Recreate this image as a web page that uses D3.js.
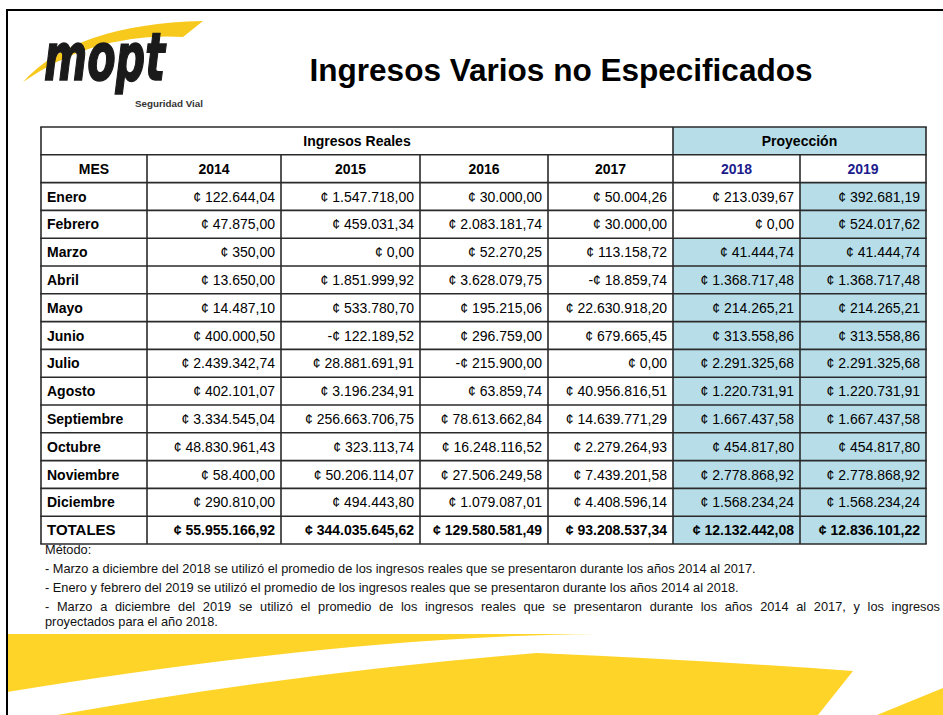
<!DOCTYPE html>
<html>
<head>
<meta charset="utf-8">
<script src="https://cdn.jsdelivr.net/npm/d3@7"></script>
<style>
  body { margin: 0; background: #fff; }
  svg text { font-family: "Liberation Sans", Arial, sans-serif; }
  svg text.narrow { font-family: "Liberation Sans Narrow", "Liberation Sans", sans-serif; }
  svg text.brand { font-family: "DejaVu Sans Condensed", "DejaVu Sans", sans-serif; }
</style>
</head>
<body>
<svg id="sheet" width="943" height="715"></svg>
<script>
"use strict";

var title = 'Ingresos Varios no Especificados';
var months = ['Enero', 'Febrero', 'Marzo', 'Abril', 'Mayo', 'Junio', 'Julio',
  'Agosto', 'Septiembre', 'Octubre', 'Noviembre', 'Diciembre'];
var years = ['2014', '2015', '2016', '2017', '2018', '2019'];

var v2014 = [122644.04, 47875.00, 350.00, 13650.00, 14487.10, 400000.50, 2439342.74,
  402101.07, 3334545.04, 48830961.43, 58400.00, 290810.00];
var v2015 = [1547718.00, 459031.34, 0.00, 1851999.92, 533780.70, -122189.52, 28881691.91,
  3196234.91, 256663706.75, 323113.74, 50206114.07, 494443.80];
var v2016 = [30000.00, 2083181.74, 52270.25, 3628079.75, 195215.06, 296759.00, -215900.00,
  63859.74, 78613662.84, 16248116.52, 27506249.58, 1079087.01];
var v2017 = [50004.26, 30000.00, 113158.72, -18859.74, 22630918.20, 679665.45, 0.00,
  40956816.51, 14639771.29, 2279264.93, 7439201.58, 4408596.14];
var v2018 = [213039.67, 0.00, 41444.74, 1368717.48, 214265.21, 313558.86, 2291325.68,
  1220731.91, 1667437.58, 454817.80, 2778868.92, 1568234.24];
var v2019 = [392681.19, 524017.62, 41444.74, 1368717.48, 214265.21, 313558.86, 2291325.68,
  1220731.91, 1667437.58, 454817.80, 2778868.92, 1568234.24];
var totals = [55955166.92, 344035645.62, 129580581.49, 93208537.34, 12132442.08, 12836101.22];

// month index from which each year column is a projection (null = real income)
var projectedFrom = [null, null, null, null, 2, 0];

var groups = ['Ingresos Reales', 'Proyección'];
var notes = [
  'Método:',
  '- Marzo a diciembre del 2018 se utilizó el promedio de los ingresos reales que se presentaron durante los años 2014 al 2017.',
  '- Enero y febrero del 2019 se utilizó el promedio de los ingresos reales que se presentaron durante los años 2014 al 2018.',
  '- Marzo a diciembre del 2019 se utilizó el promedio de los ingresos reales que se presentaron durante los años 2014 al 2017, y los ingresos',
  'proyectados para el año 2018.'
];

var series = [v2014, v2015, v2016, v2017, v2018, v2019];

var es = d3.formatLocale({
  decimal: ',', thousands: '.', grouping: [3], currency: ['¢ ', ''], minus: '-'
});
var money = es.format('$,.2f');

var YELLOW = '#ffd428';
var BLUE = '#b7dee8';
var LINE = '#2a2a2a';

function draw_frame(svg) {
  // yellow swooshes at the foot of the page
  var feet = svg.append('g').attr('fill', YELLOW);
  feet.append('path').attr('d', 'M7,634 L598,634 Q350,636 7,692 Z');
  feet.append('path').attr('d', 'M57,715 Q300,672 537,653 Q700,660 853,671 L818,715 Z');
  feet.append('path').attr('d', 'M877,715 L943,688 L943,715 Z');

  svg.append('path')
    .attr('d', 'M7,715 L7,10 L943,10')
    .attr('fill', 'none')
    .attr('stroke', '#000')
    .attr('stroke-width', 2);
}

function draw_logo(svg) {
  var logo = svg.append('g').attr('class', 'logo');
  logo.append('path')
    .attr('d', 'M23,82 Q75,24 203,21 L183,37 Q95,32 23,82 Z')
    .attr('fill', '#f7c91c');
  logo.append('text')
    .attr('class', 'brand')
    .attr('x', 44).attr('y', 80)
    .attr('font-size', 66)
    .attr('font-weight', 'bold')
    .attr('font-style', 'italic')
    .attr('textLength', 121)
    .attr('lengthAdjust', 'spacingAndGlyphs')
    .attr('fill', '#1a1a1a')
    .attr('stroke', '#1a1a1a')
    .attr('stroke-width', 1.5)
    .text('mopt');
  logo.append('text')
    .attr('x', 135).attr('y', 107)
    .attr('font-size', 9.5)
    .attr('font-weight', 'bold')
    .attr('textLength', 68)
    .attr('lengthAdjust', 'spacingAndGlyphs')
    .attr('fill', '#333')
    .text('Seguridad Vial');
}

function draw_title(svg) {
  svg.append('text')
    .attr('x', 561).attr('y', 81)
    .attr('text-anchor', 'middle')
    .attr('font-size', 31)
    .attr('font-weight', 'bold')
    .attr('textLength', 503)
    .attr('lengthAdjust', 'spacingAndGlyphs')
    .text(title);
}

function draw_table(svg) {
  var colX = [41, 147, 281, 420, 548, 673, 800, 926];
  var rowKeys = ['group', 'head'].concat(months, ['TOTALES']);
  var Y = d3.scaleBand().domain(rowKeys).range([127, 544]);
  var h = Y.bandwidth();
  var split = colX[years.length - 1];   // where projections begin

  var tbl = svg.append('g').attr('class', 'table');

  // fills
  var fills = [{ x0: split, x1: colX[colX.length - 1], row: 'group' }];
  series.forEach(function (vals, j) {
    if (projectedFrom[j] === null) return;
    months.forEach(function (m, i) {
      if (i >= projectedFrom[j]) fills.push({ x0: colX[j + 1], x1: colX[j + 2], row: m });
    });
    fills.push({ x0: colX[j + 1], x1: colX[j + 2], row: 'TOTALES' });
  });
  tbl.selectAll('rect.fill').data(fills).join('rect')
    .attr('class', 'fill')
    .attr('x', d => d.x0).attr('y', d => Y(d.row))
    .attr('width', d => d.x1 - d.x0).attr('height', h)
    .attr('fill', BLUE);

  // grid
  var grid = tbl.append('g').attr('stroke', LINE).attr('stroke-width', 1.6);
  grid.selectAll('line.h').data(rowKeys.concat(['end'])).join('line')
    .attr('class', 'h')
    .attr('x1', colX[0] - 0.8).attr('x2', colX[colX.length - 1] + 0.8)
    .attr('y1', (d, i) => Y.range()[0] + i * h)
    .attr('y2', (d, i) => Y.range()[0] + i * h);
  grid.selectAll('line.v').data(colX).join('line')
    .attr('class', 'v')
    .attr('x1', d => d).attr('x2', d => d)
    .attr('y1', (d, i) => (i === 0 || d === split || i === colX.length - 1) ? Y('group') : Y('head'))
    .attr('y2', Y.range()[1]);

  var baseline = function (row) { return Y(row) + h / 2 + 5; };

  // group headers
  tbl.selectAll('text.group').data(groups).join('text')
    .attr('class', 'group')
    .attr('x', (d, i) => i === 0 ? (colX[0] + split) / 2 : (split + colX[colX.length - 1]) / 2)
    .attr('y', baseline('group'))
    .attr('text-anchor', 'middle')
    .attr('font-size', 14).attr('font-weight', 'bold')
    .text(d => d);

  // column headers
  tbl.selectAll('text.head').data(['MES'].concat(years)).join('text')
    .attr('class', 'head')
    .attr('x', (d, i) => (colX[i] + colX[i + 1]) / 2)
    .attr('y', baseline('head'))
    .attr('text-anchor', 'middle')
    .attr('font-size', 14).attr('font-weight', 'bold')
    .attr('fill', (d, i) => (i > 0 && projectedFrom[i - 1] !== null) ? '#1c1c8c' : '#000')
    .text(d => d);

  // month labels
  tbl.selectAll('text.month').data(months.concat(['TOTALES'])).join('text')
    .attr('class', 'month')
    .attr('x', colX[0] + 6)
    .attr('y', d => baseline(d))
    .attr('font-size', d => d === 'TOTALES' ? 15 : 14)
    .attr('font-weight', 'bold')
    .text(d => d);

  // values
  var cells = [];
  series.forEach(function (vals, j) {
    vals.forEach(function (v, i) { cells.push({ col: j, row: months[i], v: v, bold: false }); });
    cells.push({ col: j, row: 'TOTALES', v: totals[j], bold: true });
  });
  tbl.selectAll('text.val').data(cells).join('text')
    .attr('class', 'val')
    .attr('x', d => colX[d.col + 2] - 6)
    .attr('y', d => baseline(d.row))
    .attr('text-anchor', 'end')
    .attr('font-size', 14)
    .attr('font-weight', d => d.bold ? 'bold' : 'normal')
    .text(d => money(d.v));
}

function draw_notes(svg) {
  var lineY = [554, 573, 592, 611, 626];
  var g = svg.append('g').attr('class', 'notes');
  var t = g.selectAll('text').data(notes).join('text')
    .attr('class', 'narrow')
    .attr('x', 45)
    .attr('y', (d, i) => lineY[i])
    .attr('font-size', 12.8)
    .attr('fill', '#111')
    .text(d => d);
  // the wrapped paragraph line is justified to the right margin
  t.filter((d, i) => i < notes.length - 1 && !/^-|:$/.test(notes[i + 1]))
    .each(function (d) {
      var gaps = d.split(' ').length - 1;
      var extra = (940 - 45) - this.getComputedTextLength();
      d3.select(this).style('word-spacing', (extra / gaps) + 'px');
    });
}

var svg = d3.select('#sheet');
draw_frame(svg);
draw_logo(svg);
draw_title(svg);
draw_table(svg);
draw_notes(svg);
</script>
</body>
</html>
